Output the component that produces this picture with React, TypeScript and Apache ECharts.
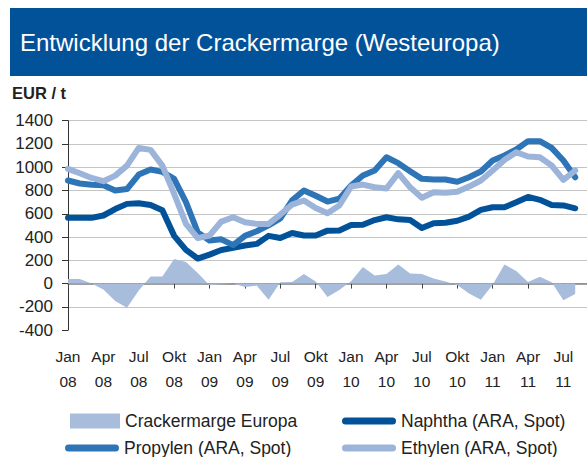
import React, { useEffect, useRef } from 'react';
import * as echarts from 'echarts';

const CATEGORIES = [
  'Jan 08', 'Feb 08', 'Mär 08', 'Apr 08', 'Mai 08', 'Jun 08', 'Jul 08', 'Aug 08', 'Sep 08', 'Okt 08', 'Nov 08', 'Dez 08',
  'Jan 09', 'Feb 09', 'Mär 09', 'Apr 09', 'Mai 09', 'Jun 09', 'Jul 09', 'Aug 09', 'Sep 09', 'Okt 09', 'Nov 09', 'Dez 09',
  'Jan 10', 'Feb 10', 'Mär 10', 'Apr 10', 'Mai 10', 'Jun 10', 'Jul 10', 'Aug 10', 'Sep 10', 'Okt 10', 'Nov 10', 'Dez 10',
  'Jan 11', 'Feb 11', 'Mär 11', 'Apr 11', 'Mai 11', 'Jun 11', 'Jul 11', 'Aug 11', 'Sep 11',
];

const CRACKERMARGE = [
  40, 40, 0, -50, -150, -208, -60, 60, 60, 212, 185, 90,
  -15, -5, 0, -30, -17, -140, 12, 14, 83, 18, -115, -55,
  20, 143, 69, 83, 163, 86, 83, 43, 18, -12, -85, -140,
  -10, 163, 108, 14, 58, 11, -143, -89,
];

const NAPHTHA = [
  565, 565, 565, 585, 640, 685, 690, 675, 630, 410, 290, 215,
  249, 289, 307, 327, 341, 410, 392, 435, 413, 413, 455, 456,
  503, 506, 546, 570, 552, 547, 477, 519, 523, 540, 576, 633,
  656, 656, 699, 745, 720, 675, 672, 647,
];

const PROPYLEN = [
  886, 860, 850, 845, 800, 812, 937, 980, 960, 900, 700, 440,
  370, 380, 330, 410, 450, 500, 560, 715, 800, 755, 705, 730,
  843, 929, 972, 1086, 1035, 966, 900, 894, 894, 875, 914, 963,
  1058, 1101, 1152, 1224, 1224, 1166, 1058, 914,
];

const ETHYLEN = [
  986, 948, 908, 880, 928, 1014, 1166, 1149, 1014, 771, 513, 390,
  413, 533, 570, 527, 513, 513, 593, 679, 714, 650, 605, 671,
  834, 851, 828, 817, 949, 828, 737, 785, 780, 790, 834, 886,
  972, 1063, 1129, 1092, 1086, 1015, 891, 972,
];

const SERIES_NAMES = [
  'Crackermarge Europa',
  'Naphtha (ARA, Spot)',
  'Propylen (ARA, Spot)',
  'Ethylen (ARA, Spot)',
];

const COLORS = {
  banner: '#02529A',
  area: '#A8BCDC',
  naphtha: '#02529A',
  propylen: '#2E75B8',
  ethylen: '#9DB4DA',
};

const FONT = "'Liberation Sans', Arial, Helvetica, sans-serif";
const CAPSULE = 'path://M3.5 0H50.5A3.5 3.5 0 0 1 50.5 7H3.5A3.5 3.5 0 0 1 3.5 0Z';

function legendFor(name: string, left: number, top: number, icon: string, w: number, h: number) {
  return {
    data: [name],
    left,
    top,
    padding: 0,
    icon,
    itemWidth: w,
    itemHeight: h,
    selectedMode: false,
    textStyle: { fontSize: 17.5, color: '#222', fontFamily: FONT },
  };
}

export default function App() {
  const ref = useRef<HTMLDivElement>(null);

  useEffect(() => {
    if (!ref.current) return;
    const chart = echarts.init(ref.current, null, { renderer: 'svg' });
    const lineSeries = (name: string, data: number[], color: string) => ({
      name,
      type: 'line',
      data,
      symbol: 'none',
      showSymbol: false,
      itemStyle: { color },
      lineStyle: { width: 6, color, cap: 'round', join: 'round' },
      emphasis: { disabled: true },
    });
    chart.setOption({
      animation: false,
      graphic: [
        {
          type: 'rect',
          shape: { x: 10, y: 8, width: 577, height: 68 },
          style: { fill: COLORS.banner },
          silent: true,
        },
        {
          type: 'text',
          x: 20,
          y: 42,
          style: {
            text: 'Entwicklung der Crackermarge (Westeuropa)',
            fill: '#ffffff',
            fontSize: 24,
            fontFamily: FONT,
            verticalAlign: 'middle',
            align: 'left',
          },
          silent: true,
        },
        {
          type: 'text',
          x: 12,
          y: 92.5,
          style: {
            text: 'EUR / t',
            fill: '#222',
            fontSize: 16.5,
            fontWeight: 'bold',
            fontFamily: FONT,
            verticalAlign: 'middle',
            align: 'left',
          },
          silent: true,
        },
      ],
      legend: [
        legendFor(SERIES_NAMES[0], 70, 412, 'rect', 50, 15),
        legendFor(SERIES_NAMES[1], 342, 412, CAPSULE, 54, 7),
        legendFor(SERIES_NAMES[2], 65, 439, CAPSULE, 54, 7),
        legendFor(SERIES_NAMES[3], 342, 439, CAPSULE, 54, 7),
      ],
      grid: { left: 68, top: 120.7, width: 528, height: 209.4, containLabel: false },
      xAxis: {
        type: 'category',
        data: CATEGORIES,
        boundaryGap: false,
        axisLine: { onZero: true, lineStyle: { color: '#808080', width: 1.5 } },
        axisTick: { show: true, interval: 2, length: 5, lineStyle: { color: '#444', width: 1 } },
        axisLabel: {
          interval: 2,
          margin: 13.5,
          fontSize: 15.5,
          lineHeight: 25.5,
          color: '#222',
          fontFamily: FONT,
          formatter: (v: string) => v.replace(' ', '\n'),
        },
        splitLine: { show: false },
      },
      yAxis: {
        type: 'value',
        min: -400,
        max: 1400,
        interval: 200,
        axisLine: { show: true, lineStyle: { color: '#333', width: 1 } },
        axisTick: { show: true, inside: false, length: 6, lineStyle: { color: '#333' } },
        axisLabel: {
          fontSize: 17,
          color: '#222',
          margin: 15,
          fontFamily: FONT,
          formatter: (v: number) => String(v),
        },
        splitLine: { show: true, showMinLine: false, lineStyle: { color: '#C4C4C4', width: 1 } },
      },
      series: [
        {
          name: SERIES_NAMES[0],
          type: 'line',
          data: CRACKERMARGE,
          symbol: 'none',
          showSymbol: false,
          itemStyle: { color: COLORS.area },
          lineStyle: { width: 0, color: COLORS.area },
          areaStyle: { color: COLORS.area, opacity: 1 },
          emphasis: { disabled: true },
        },
        lineSeries(SERIES_NAMES[1], NAPHTHA, COLORS.naphtha),
        lineSeries(SERIES_NAMES[2], PROPYLEN, COLORS.propylen),
        lineSeries(SERIES_NAMES[3], ETHYLEN, COLORS.ethylen),
      ],
    });
    return () => chart.dispose();
  }, []);

  return (
    <div
      ref={ref}
      style={{ position: 'absolute', left: 0, top: 0, width: 587, height: 457, background: '#fff' }}
    />
  );
}
